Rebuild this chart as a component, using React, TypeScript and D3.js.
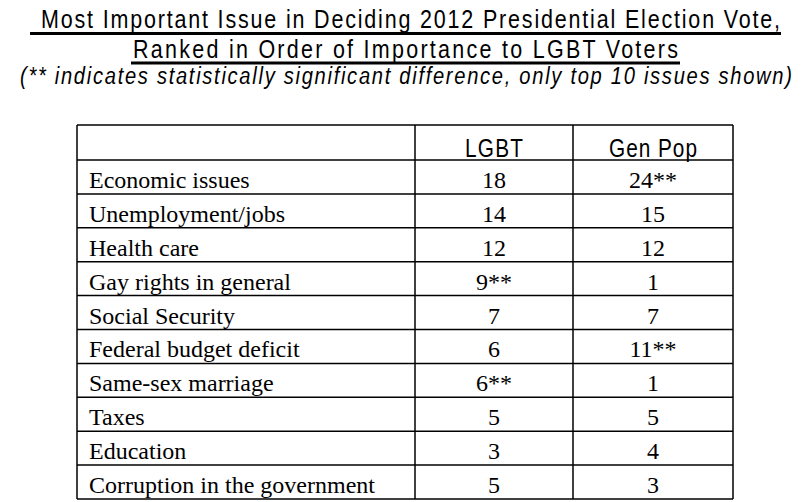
import React from "react";
import * as d3 from "d3";

const titleLines = [
  "Most Important Issue in Deciding 2012 Presidential Election Vote,",
  "Ranked in Order of Importance to LGBT Voters",
];
const subtitle = "(** indicates statistically significant difference, only top 10 issues shown)";
const columns = ["LGBT", "Gen Pop"];
const issues = [
  "Economic issues",
  "Unemployment/jobs",
  "Health care",
  "Gay rights in general",
  "Social Security",
  "Federal budget deficit",
  "Same-sex marriage",
  "Taxes",
  "Education",
  "Corruption in the government",
];
const lgbt = ["18", "14", "12", "9**", "7", "6", "6**", "5", "3", "5"];
const genPop = ["24**", "15", "12", "1", "7", "11**", "1", "5", "4", "3"];

const W = 807;
const H = 502;
const sans = "'Liberation Sans', Arial, sans-serif";
const serif = "'Liberation Serif', 'Times New Roman', serif";

// Condensed text: squeeze glyphs horizontally, then fit spacing to the target width
function Narrow(props: {
  x: number; y: number; width: number; size: number; text: string;
  italic?: boolean; anchor?: "start" | "middle"; sx?: number;
}) {
  const sx = props.sx ?? 0.86;
  const x0 = props.anchor === "middle" ? props.x - props.width / 2 : props.x;
  return (
    <text
      transform={`translate(${x0},${props.y}) scale(${sx},1)`}
      x={0}
      y={0}
      fontFamily={sans}
      fontSize={props.size}
      fontStyle={props.italic ? "italic" : "normal"}
      textLength={props.width / sx}
      lengthAdjust="spacing"
      fill="#000"
    >
      {props.text}
    </text>
  );
}

export default function App() {
  const colEdges = [77, 415, 573, 733];
  const left = colEdges[0];
  const headerTop = 125;
  const headerBottom = 160;
  const y = d3.scaleBand<string>().domain(issues).range([headerBottom, 499]).padding(0);
  const colCenter = (i: number) => (colEdges[i + 1] + colEdges[i + 2]) / 2;
  const values = [lgbt, genPop];
  const tableBottom = y.range()[1];
  const headerWidths = [58, 88];

  return (
    <svg width={W} height={H} style={{ position: "absolute", left: 0, top: 0, background: "#fff" }}>
      <rect x={0} y={0} width={W} height={H} fill="#fff" />
      {/* Title */}
      <Narrow x={41} y={28} width={739} size={25} text={titleLines[0]} />
      <line x1={30} x2={781} y1={33.5} y2={33.5} stroke="#000" strokeWidth={3} />
      <Narrow x={133} y={58} width={545} size={25} text={titleLines[1]} />
      <line x1={131} x2={680} y1={63} y2={63} stroke="#000" strokeWidth={3} />
      <Narrow x={20} y={84} width={772} size={24} text={subtitle} italic sx={0.84} />

      {/* Header */}
      {columns.map((c, i) => (
        <Narrow key={c} x={colCenter(i)} y={157} width={headerWidths[i]} size={26} text={c} anchor="middle" sx={0.8} />
      ))}

      {/* Rows */}
      {issues.map((iss, r) => {
        const y0 = y(iss)!;
        const base = y0 + y.bandwidth() - 6;
        return (
          <g key={iss}>
            <text x={89} y={base} fontFamily={serif} fontSize={24} fill="#000">{iss}</text>
            {values.map((vals, c) => (
              <text key={c} x={colCenter(c)} y={base} textAnchor="middle" fontFamily={serif} fontSize={24} fill="#000">
                {vals[r]}
              </text>
            ))}
          </g>
        );
      })}

      {/* Grid lines */}
      <g stroke="#000" strokeWidth={1.5}>
        <line x1={left} x2={colEdges[3]} y1={headerTop} y2={headerTop} />
        <line x1={left} x2={colEdges[3]} y1={headerBottom} y2={headerBottom} />
        {issues.map((iss) => (
          <line key={iss} x1={left} x2={colEdges[3]} y1={y(iss)! + y.bandwidth()} y2={y(iss)! + y.bandwidth()} />
        ))}
        {colEdges.map((x) => (
          <line key={x} x1={x} x2={x} y1={headerTop} y2={tableBottom} />
        ))}
      </g>
    </svg>
  );
}
